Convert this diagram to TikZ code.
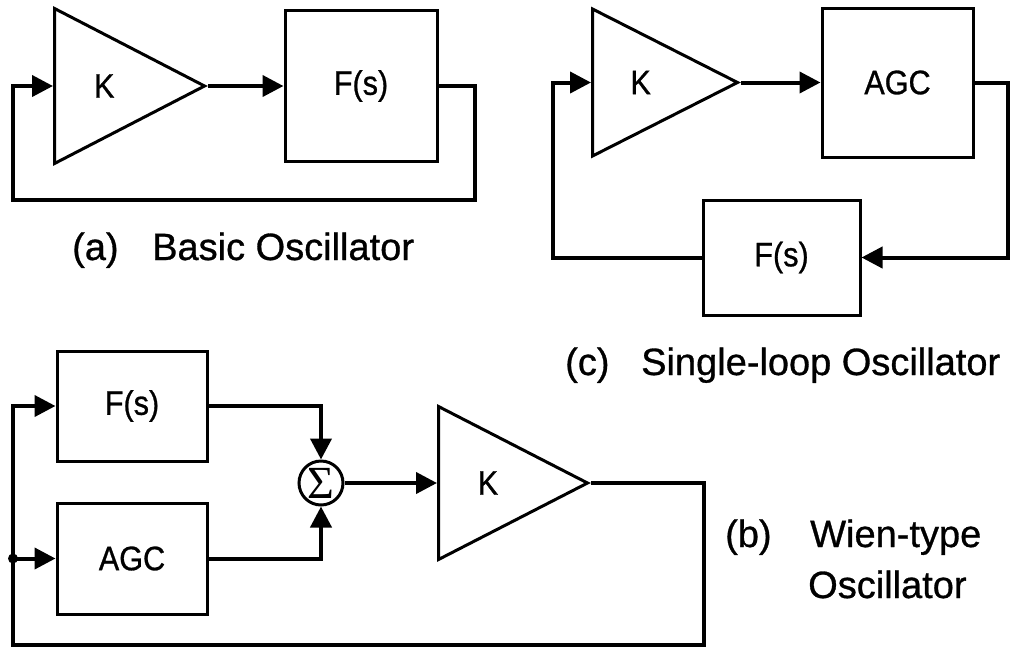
\documentclass[tikz,border=0pt]{standalone}
\usepackage{fontspec}
\setmainfont{Liberation Sans}[FakeBold=0.8]
\newfontfamily\boxfont{Liberation Sans}[FakeBold=0.8,FakeStretch=0.9]
\newfontfamily\serifgreek{Liberation Serif}
\usetikzlibrary{arrows.meta,positioning,calc,shapes.geometric}
\tikzset{
  wire/.style={line width=4pt},
  arr/.style={wire,-{Triangle[length=21pt,width=21pt]}},
  blk/.style={draw,line width=3pt,rectangle,inner sep=0pt,font=\boxfont\fontsize{34}{36}\selectfont},
  amp/.style={draw,line width=3pt,isosceles triangle,isosceles triangle stretches,
    inner sep=0pt,anchor=west},
  sumnode/.style={draw,line width=3pt,circle,minimum size=44pt,inner sep=0pt,
    font=\serifgreek\fontsize{46}{48}\selectfont},
  txt/.style={font=\boxfont\fontsize{34}{36}\selectfont},
  caption/.style={font=\fontsize{38}{40}\selectfont,anchor=base west,inner sep=0pt},
  jdot/.style={circle,fill,inner sep=0pt,minimum size=10pt},
}
\begin{document}
\begin{tikzpicture}[x=1pt,y=-1pt]
  \useasboundingbox (0,0) rectangle (1011,654);
  % (a) basic
  \node[amp,minimum width=155pt,minimum height=150pt] (ka) at (53,86) {};
  \node[txt] (ka-t) at ($(ka.west)!0.33!(ka.apex)$) {K};
  \node[blk,minimum width=152pt,minimum height=151pt] (fa) at (361,86) {F(s)};
  \coordinate (a1) at (475,200);
  \coordinate (a2) at (13,200);
  \draw[arr] (ka.apex) -- (fa.west);
  \draw[arr] (fa.east) -| (a1) -- (a2) |- (ka.west);
  \node[caption] (cap-a) at (72,260) {(a)};
  \node[caption] (cap-a2) at (152,260) {Basic Oscillator};
  % (c) single loop
  \node[amp,minimum width=147pt,minimum height=145pt] (kc) at (591,82.5) {};
  \node[txt] (kc-t) at ($(kc.west)!0.33!(kc.apex)$) {K};
  \node[blk,minimum width=151pt,minimum height=149pt] (agc) at (897.5,82.5) {AGC};
  \node[blk,minimum width=157pt,minimum height=115pt] (fc) at (781.5,257.5) {F(s)};
  \coordinate (c1) at (1008,257.5);
  \coordinate (c2) at (553,257.5);
  \draw[arr] (kc.apex) -- (agc.west);
  \draw[arr] (agc.east) -| (c1) -- (fc.east);
  \draw[arr] (fc.west) -- (c2) |- (kc.west);
  \node[caption] (cap-c) at (565,375) {(c)};
  \node[caption] (cap-c2) at (641,375) {Single-loop Oscillator};
  % (b) wien type
  \node[blk,minimum width=150pt,minimum height=110pt] (fb) at (132,406) {F(s)};
  \node[blk,minimum width=150pt,minimum height=111pt] (agcb) at (132,558.5) {AGC};
  \node[sumnode] (sig) at (321,483) {Σ};
  \node[amp,minimum width=153pt,minimum height=149pt] (kb) at (437,483) {};
  \node[txt] (kb-t) at ($(kb.west)!0.33!(kb.apex)$) {K};
  \coordinate (b1) at (704,645);
  \coordinate (b2) at (13,645);
  \coordinate (bj) at (13,558.5);
  \draw[arr] (fb.east) -| (sig.north);
  \draw[arr] (agcb.east) -| (sig.south);
  \draw[arr] (sig.east) -- (kb.west);
  \draw[arr] (kb.apex) -| (b1) -- (b2) |- (fb.west);
  \node[jdot] (bjd) at (bj) {};
  \draw[arr] (bjd.center) -- (agcb.west);
  \node[caption] (cap-b) at (725,547) {(b)};
  \node[caption] (cap-b2) at (810,547) {Wien-type};
  \node[caption] (cap-b3) at (808,598) {Oscillator};
\end{tikzpicture}
\end{document}
